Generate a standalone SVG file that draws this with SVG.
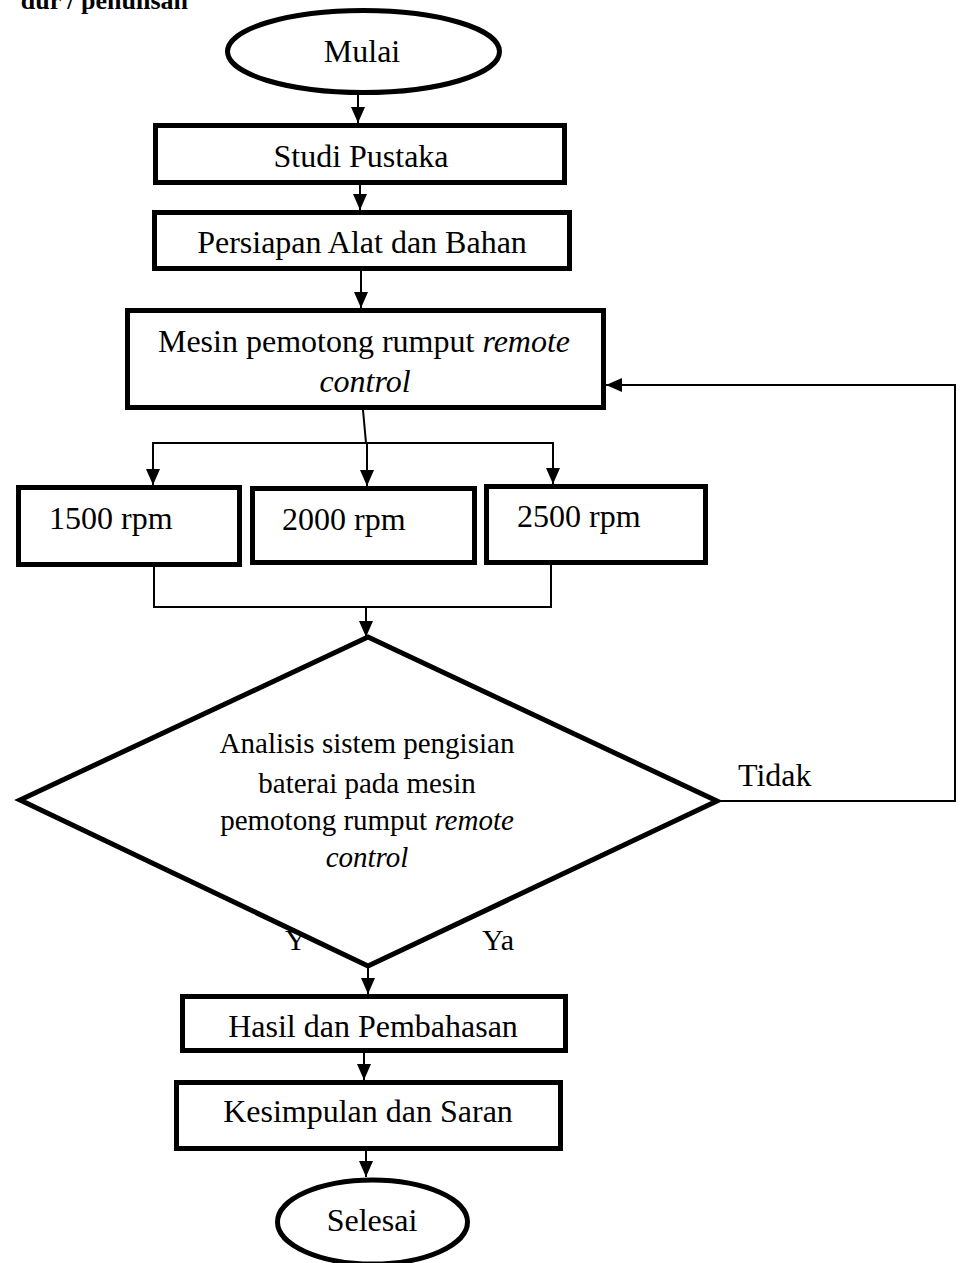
<svg xmlns="http://www.w3.org/2000/svg" width="962" height="1263" viewBox="0 0 962 1263">
<defs>
<marker id="arr" markerUnits="userSpaceOnUse" markerWidth="16" markerHeight="14" refX="16" refY="7" orient="auto">
<path d="M0,0 L16,7 L0,14 z" fill="#000"/>
</marker>
<style>
.shape{fill:#fff;stroke:#000;stroke-width:5}
.conn{fill:none;stroke:#000;stroke-width:2}
.t{font-family:"Liberation Serif","Times New Roman",serif;font-size:32px;fill:#000}
.d{font-size:29px}
.i{font-style:italic}
</style>
</defs>
<rect width="962" height="1263" fill="#fff"/>
<text x="188" y="9" text-anchor="end" style="font-family:'Liberation Serif','Times New Roman',serif;font-size:26px;font-weight:bold">dur / penulisan</text>

<g id="connectors">
<path class="conn" d="M358,95 L358,123" marker-end="url(#arr)"/>
<path class="conn" d="M360,185 L360,210" marker-end="url(#arr)"/>
<path class="conn" d="M361,271 L361,308" marker-end="url(#arr)"/>
<path class="conn" d="M363,410 L366,443"/>
<path class="conn" d="M152,443 L554,443"/>
<path class="conn" d="M153,443 L153,485" marker-end="url(#arr)"/>
<path class="conn" d="M367,443 L367,486" marker-end="url(#arr)"/>
<path class="conn" d="M553,443 L553,484" marker-end="url(#arr)"/>
<path class="conn" d="M154,567 L154,607 L551,607 L551,565"/>
<path class="conn" d="M366,607 L366,637" marker-end="url(#arr)"/>
<path class="conn" d="M718,801 L955,801 L955,385 L606,385" marker-end="url(#arr)"/>
<path class="conn" d="M368,967 L368,994" marker-end="url(#arr)"/>
<path class="conn" d="M364,1053 L364,1080" marker-end="url(#arr)"/>
<path class="conn" d="M366,1151 L366,1177" marker-end="url(#arr)"/>
</g>

<g id="mulai">
<ellipse class="shape" cx="363.5" cy="51.5" rx="136" ry="41"/>
<text class="t" x="362" y="62" text-anchor="middle">Mulai</text>
</g>
<g id="studi">
<rect class="shape" x="155.5" y="125.5" width="409" height="57"/>
<text class="t" x="361" y="167" text-anchor="middle">Studi Pustaka</text>
</g>
<g id="persiapan">
<rect class="shape" x="154.5" y="212.5" width="415" height="56"/>
<text class="t" x="362" y="253" text-anchor="middle">Persiapan Alat dan Bahan</text>
</g>
<g id="mesin">
<rect class="shape" x="127.5" y="310.5" width="476" height="97"/>
<text class="t" x="364" y="352" text-anchor="middle">Mesin pemotong rumput <tspan class="i">remote</tspan></text>
<text class="t i" x="365" y="392" text-anchor="middle">control</text>
</g>
<g id="rpm1500">
<rect class="shape" x="18.5" y="487.5" width="221" height="77"/>
<text class="t" x="49" y="529">1500 rpm</text>
</g>
<g id="rpm2000">
<rect class="shape" x="252.5" y="488.5" width="222" height="74"/>
<text class="t" x="282" y="530">2000 rpm</text>
</g>
<g id="rpm2500">
<rect class="shape" x="486.5" y="486.5" width="219" height="76"/>
<text class="t" x="517" y="527">2500 rpm</text>
</g>
<g id="label-y">
<text class="t" x="285" y="950" style="font-size:30px">Y</text>
</g>
<g id="analisis">
<polygon class="shape" points="368,637 717,801 368,966 20,800"/>
<text class="t d" x="367" y="753" text-anchor="middle">Analisis sistem pengisian</text>
<text class="t d" x="367" y="793" text-anchor="middle">baterai pada mesin</text>
<text class="t d" x="367" y="830" text-anchor="middle">pemotong rumput <tspan class="i">remote</tspan></text>
<text class="t d i" x="367" y="867" text-anchor="middle">control</text>
</g>
<g id="label-ya">
<text class="t" x="482" y="950" style="font-size:30px">Ya</text>
</g>
<g id="label-tidak">
<text class="t" x="738" y="786">Tidak</text>
</g>
<g id="hasil">
<rect class="shape" x="182.5" y="996.5" width="383" height="54"/>
<text class="t" x="373" y="1037" text-anchor="middle">Hasil dan Pembahasan</text>
</g>
<g id="kesimpulan">
<rect class="shape" x="176.5" y="1082.5" width="384" height="66"/>
<text class="t" x="368" y="1122" text-anchor="middle">Kesimpulan dan Saran</text>
</g>
<g id="selesai">
<ellipse class="shape" cx="372.5" cy="1222" rx="95" ry="42"/>
<text class="t" x="372" y="1231" text-anchor="middle">Selesai</text>
</g>
</svg>
